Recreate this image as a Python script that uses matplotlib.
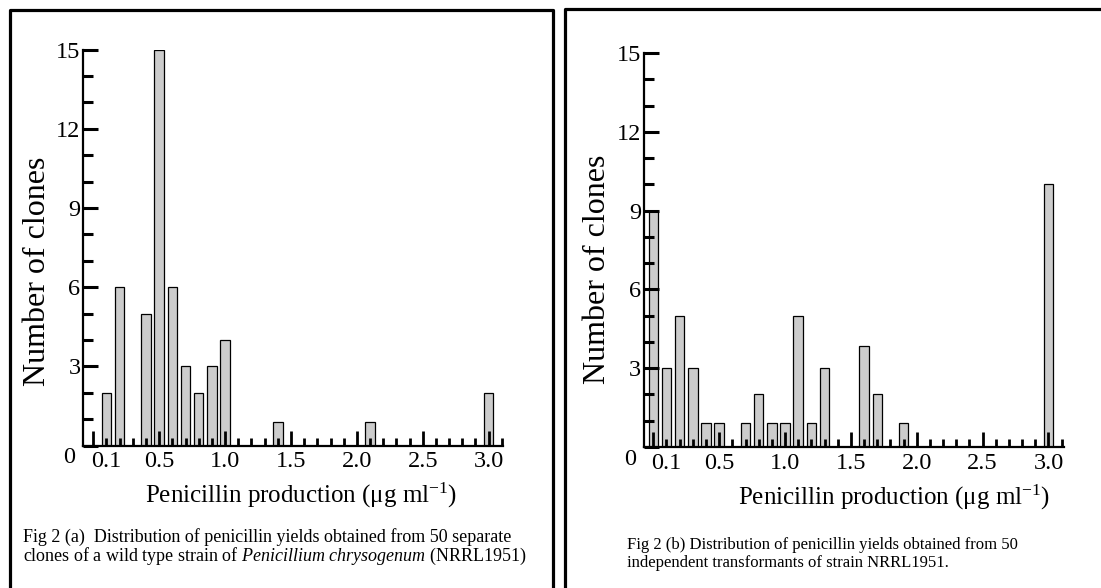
import numpy as np
import matplotlib
matplotlib.use("Agg")
import matplotlib.pyplot as plt
from matplotlib.lines import Line2D
from matplotlib.transforms import ScaledTranslation

plt.rcParams['font.family'] = ['Liberation Serif', 'DejaVu Serif']
plt.rcParams['mathtext.fontset'] = 'custom'
plt.rcParams['mathtext.rm'] = 'Liberation Serif'
plt.rcParams['mathtext.it'] = 'Liberation Serif:italic'

# penicillin production bins (ug/ml) and number of clones
prod_a = [0.1, 0.2, 0.4, 0.5, 0.6, 0.7, 0.8, 0.9, 1.0, 1.4, 2.1, 3.0]
clones_a = [2, 6, 5, 15, 6, 3, 2, 3, 4, 0.9, 0.9, 2]

prod_b = [0.0, 0.1, 0.2, 0.3, 0.4, 0.5, 0.7, 0.8, 0.9, 1.0, 1.1, 1.2, 1.3, 1.6, 1.7, 1.9, 3.0]
clones_b = [9, 3, 5, 3, 0.93, 0.93, 0.93, 2, 0.93, 0.93, 5, 0.93, 3, 3.85, 2, 0.93, 10]

x_major = [0.0, 0.5, 1.0, 1.5, 2.0, 2.5, 3.0]
x_major_labels = ['', '0.5', '1.0', '1.5', '2.0', '2.5', '3.0']
y_major = [0, 3, 6, 9, 12, 15]
y_major_labels = ['0', '3', '6', '9', '12', '15']

xlabel = r'Penicillin production ($\mathrm{\mu}$g ml$^{\mathregular{-1}}$)'
cap_a1 = 'Fig 2 (a)  Distribution of penicillin yields obtained from 50 separate'
cap_a2 = r'clones of a wild type strain of $\mathit{Penicillium\ chrysogenum}$ (NRRL1951)'
cap_b1 = 'Fig 2 (b) Distribution of penicillin yields obtained from 50'
cap_b2 = 'independent transformants of strain NRRL1951.'

W, H = 1101, 588
fig = plt.figure(figsize=(W / 100, H / 100), dpi=100)


def px(x0, y0, x1, y1):
    # pixel box (top-left origin) -> figure fraction rect
    return [x0 / W, (H - y1) / H, (x1 - x0) / W, (y1 - y0) / H]


def hist_panel(ax, prod, clones, xlim):
    ax.bar(prod, clones, width=0.072, color='#cccccc', edgecolor='black', linewidth=0.9, zorder=1)
    ax.set_xlim(*xlim)
    ax.set_ylim(0, 15)
    for s in ['top', 'right']:
        ax.spines[s].set_visible(False)
    for s in ['left', 'bottom']:
        ax.spines[s].set_linewidth(1.6)

    minor = [round(k * 0.1, 1) for k in range(32) if k % 5 != 0]
    minor_labels = ['0.1' if m == 0.1 else '' for m in minor]
    ax.set_xticks(x_major, x_major_labels)
    ax.set_xticks(minor, minor_labels, minor=True)
    ax.set_yticks(y_major, y_major_labels)
    ax.set_yticks(range(16), minor=True)

    ax.tick_params(axis='x', which='major', direction='in', length=10.5, width=2.0,
                   labelsize=17.5, pad=4)
    ax.tick_params(axis='x', which='minor', direction='in', length=5.5, width=2.0,
                   labelsize=17.5, pad=4)
    ax.tick_params(axis='y', which='major', direction='in', length=11, width=2.2,
                   labelsize=17.5, pad=2)
    ax.tick_params(axis='y', which='minor', direction='in', length=7.5, width=2.2)

    lab0 = ax.get_yticklabels()[0]
    lab0.set_transform(lab0.get_transform() + ScaledTranslation(-4 / 72, -7 / 72, fig.dpi_scale_trans))

    ax.set_ylabel('Number of clones', fontsize=23)
    ax.patch.set_alpha(0)


ax1 = fig.add_axes(px(83.3, 49.5, 503.3, 445.5))
hist_panel(ax1, prod_a, clones_a, (-0.076, 3.111))
ax1.yaxis.set_label_coords(-0.075, 0.44)

ax2 = fig.add_axes(px(644, 53, 1064.3, 447))
hist_panel(ax2, prod_b, clones_b, (-0.0706, 3.12))
ax2.yaxis.set_label_coords(-0.077, 0.45)

fig.text(301 / W, 1 - 495 / H, xlabel, fontsize=18, ha='center', va='center')
fig.text(894 / W, 1 - 497 / H, xlabel, fontsize=18, ha='center', va='center')

fig.text(23 / W, 1 - 537 / H, cap_a1, fontsize=13, ha='left', va='center')
fig.text(23 / W, 1 - 556 / H, cap_a2, fontsize=13, ha='left', va='center')
fig.text(627 / W, 1 - 545 / H, cap_b1, fontsize=12, ha='left', va='center')
fig.text(627 / W, 1 - 563 / H, cap_b2, fontsize=12, ha='left', va='center')

# panel frames (bottom and far right run off the page)
def frame_line(xs, ys):
    fig.add_artist(Line2D([x / W for x in xs], [1 - y / H for y in ys],
                          color='black', linewidth=2.3, solid_capstyle='projecting'))

frame_line([10, 10, 553, 553], [600, 9.5, 9.5, 600])
frame_line([565, 565, 1120], [600, 8.5, 8.5])

fig.savefig('out.png', dpi=100)
